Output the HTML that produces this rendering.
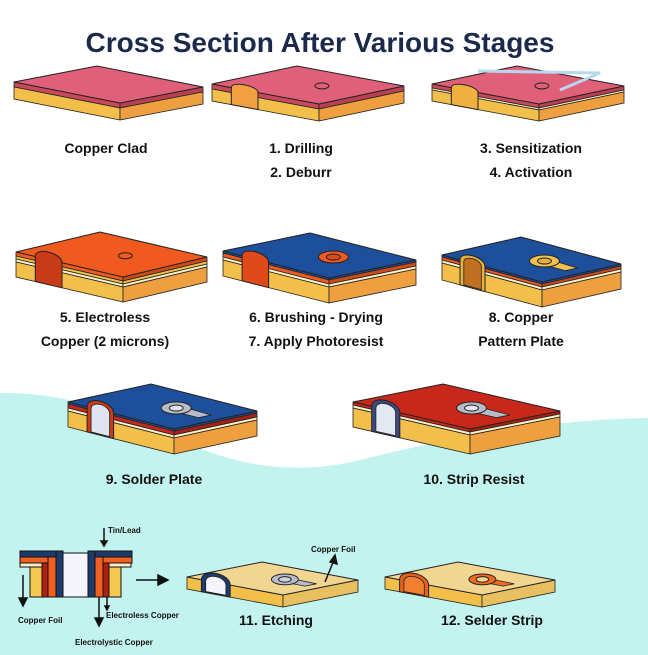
<!DOCTYPE html>
<html><head><meta charset="utf-8"><style>
html,body{margin:0;padding:0;background:#fff}
svg{display:block}
text{font-family:"Liberation Sans",sans-serif;font-weight:bold}
</style></head><body>
<svg id="s" width="648" height="655" viewBox="0 0 648 655" xmlns="http://www.w3.org/2000/svg">
<path d="M0 393 C60 392 120 410 180 440 C240 468 300 475 360 460 C440 440 540 420 648 418 L648 655 L0 655 Z" fill="#c3f3ee"/>
<text x="320" y="52" text-anchor="middle" font-size="28" fill="#1b2a4a">Cross Section After Various Stages</text>
<g font-size="14" fill="#111" text-anchor="middle">
<text x="106" y="153">Copper Clad</text>
<text x="301" y="153">1. Drilling</text>
<text x="301" y="177">2. Deburr</text>
<text x="531" y="153">3. Sensitization</text>
<text x="531" y="177">4. Activation</text>
<text x="105" y="322">5. Electroless</text>
<text x="105" y="346">Copper (2 microns)</text>
<text x="316" y="322">6. Brushing - Drying</text>
<text x="316" y="346">7. Apply Photoresist</text>
<text x="521" y="322">8. Copper</text>
<text x="521" y="346">Pattern Plate</text>
<text x="154" y="484">9. Solder Plate</text>
<text x="474" y="484">10. Strip Resist</text>
<text x="276" y="625">11. Etching</text>
<text x="492" y="625">12. Selder Strip</text>
</g>
<g id="g"></g>
<g stroke="#111" stroke-width="1">
<rect x="20" y="551" width="42" height="6" fill="#1e3a6a"/>
<rect x="20" y="557" width="42" height="6" fill="#f06020"/>
<rect x="20" y="563" width="22" height="4" fill="#fbeed0"/>
<rect x="30" y="567" width="12" height="30" fill="#f5c850"/>
<rect x="42" y="563" width="6" height="34" fill="#b02010"/>
<rect x="48" y="557" width="8" height="40" fill="#f06020"/>
<rect x="56" y="551" width="7" height="46" fill="#1e3a6a"/>
<rect x="63" y="553" width="25" height="44" fill="#f4f4fa"/>
<rect x="88" y="551" width="7" height="46" fill="#1e3a6a"/>
<rect x="95" y="557" width="8" height="40" fill="#f06020"/>
<rect x="103" y="563" width="6" height="34" fill="#b02010"/>
<rect x="109" y="563" width="22" height="4" fill="#fbeed0"/>
<rect x="109" y="567" width="12" height="30" fill="#f5c850"/>
<rect x="95" y="551" width="37" height="6" fill="#1e3a6a"/>
<rect x="103" y="557" width="29" height="6" fill="#f06020"/>
</g>
<g stroke="#111" stroke-width="1.5" fill="#111">
<line x1="104" y1="528" x2="104" y2="543"/><path d="M101 541 L104 546 L107 541Z"/>
<line x1="23" y1="575" x2="23" y2="600"/><path d="M19 598 L23 606 L27 598Z"/>
<line x1="99" y1="597" x2="99" y2="620"/><path d="M95 618 L99 626 L103 618Z"/>
<line x1="107" y1="597" x2="107" y2="608"/><path d="M105 606 L107 610 L109 606Z"/>
<line x1="136" y1="580" x2="162" y2="580"/><path d="M158 575 L168 580 L158 585Z"/>
<line x1="325" y1="582" x2="334" y2="560"/><path d="M330 562 L335 555 L337 564Z"/>
</g>
<g font-size="8" fill="#111">
<text x="108" y="533">Tin/Lead</text>
<text x="18" y="623">Copper Foil</text>
<text x="106" y="618">Electroless Copper</text>
<text x="75" y="645">Electrolystic Copper</text>
<text x="311" y="552">Copper Foil</text>
</g>
</svg>
<script>
var NS="http://www.w3.org/2000/svg",G=document.getElementById("g");
function el(t,a){var e=document.createElementNS(NS,t);for(var k in a)e.setAttribute(k,a[k]);G.appendChild(e);return e;}
function P(pts){return pts.map(function(p){return p[0].toFixed(1)+","+p[1].toFixed(1)}).join(" ");}
function S(p){return p[0].toFixed(1)+","+p[1].toFixed(1);}
function slab(A,u,v,top,layers,o){
 o=o||{};
 function pt(s,t,dy){return [A[0]+s*u[0]+t*v[0],A[1]+s*u[1]+t*v[1]+(dy||0)];}
 var y0=0;
 layers.forEach(function(L){
  var t=L[1];
  el("polygon",{points:P([pt(0,0,y0),pt(1,0,y0),pt(1,0,y0+t),pt(0,0,y0+t)]),fill:L[0],stroke:"#222","stroke-width":0.8});
  el("polygon",{points:P([pt(1,0,y0),pt(1,1,y0),pt(1,1,y0+t),pt(1,0,y0+t)]),fill:L[2]||L[0],stroke:"#222","stroke-width":0.8});
  y0+=t;
 });
 var T=y0;
 el("polygon",{points:P([pt(0,0),pt(1,0),pt(1,1),pt(0,1)]),fill:top,stroke:"#222","stroke-width":1});
 if(o.notch){
  var s1=o.ns||0.18,s2=o.ne||0.43,h=o.h||10;
  var P1=pt(s1,0),P2=pt(s2,0);
  var c1=[P1[0],P1[1]-h],c2=[P2[0],P2[1]-h];
  el("path",{d:"M"+S(P1)+" C"+S(c1)+" "+S(c2)+" "+S(P2)+" L"+S(pt(s2,0,T))+" L"+S(pt(s1,0,T))+"Z",fill:o.notch,stroke:"#222","stroke-width":1});
  if(o.inner){var w=(s2-s1)*0.15,Q1=pt(s1+w,0,1),Q2=pt(s2-w,0,1);
   el("path",{d:"M"+S(Q1)+" C"+S([Q1[0],Q1[1]-h*0.75])+" "+S([Q2[0],Q2[1]-h*0.75])+" "+S(Q2)+" L"+S(pt(s2-w,0,T-1))+" L"+S(pt(s1+w,0,T-1))+"Z",fill:o.inner,stroke:"#222","stroke-width":0.8});}
 }
 if(o.hole){var hh=pt(o.hs||0.59,o.ht||0.55),k=o.k||1;
  if(o.tab)el("polygon",{points:P([pt(0.6,0.45),pt(0.88,0.45),pt(0.88,0.6),pt(0.6,0.62)]),fill:o.pad,stroke:"#222","stroke-width":0.8});
  if(o.pad)el("ellipse",{cx:hh[0],cy:hh[1],rx:15*k,ry:6*k,fill:o.pad,stroke:"#222"});
  el("ellipse",{cx:hh[0],cy:hh[1],rx:7*k,ry:3*k,fill:o.hole,stroke:"#222"});
 }
}
var Y="#f2c04a",Y2="#eea040",CR="#fbf0c8",OR="#f05a1e",BL="#1e4f9a",RD="#c8281a",PK="#e0607a",PKd="#c84a5a";
slab([14,82],[106,21],[83,-16],PK,[[PKd,5,"#b84050"],[Y,12,Y2]]);
slab([212,84],[107,20],[85,-18],PK,[[PKd,5,"#b84050"],[Y,12,Y2]],{notch:"#f0a040",hole:PK,h:7});
slab([432,84],[107,20],[85,-18],PK,[[PKd,4,"#b84050"],[CR,2],[Y,11,Y2]],{notch:"#f0b040",hole:PK,h:7});
el("polyline",{points:"478,71 600,73 560,90",fill:"none",stroke:"#b8d8f0","stroke-width":3});
slab([16,252],[107,25],[84,-20],OR,[[OR,4,"#d04a18"],[Y,3],[CR,3],[Y,15,Y2]],{notch:"#c83a18",hole:OR});
slab([223,251],[106,27],[87,-18],BL,[[BL,2],[OR,4,"#d04a18"],[CR,3],[Y,16,Y2]],{notch:"#e04a1a",hole:"#e04a1a",pad:OR});
slab([442,255],[100,27],[79,-18],BL,[[BL,2],[OR,3,"#d04a18"],[CR,3],[Y,17,Y2]],{notch:"#e8b040",inner:"#c07020",hole:"#e8b040",pad:"#f0c050",tab:1});
slab([68,402],[106,27],[83,-18],BL,[[BL,2],[RD,4,"#a82010"],[CR,3],[Y,16,Y2]],{notch:"#c83a18",inner:"#dfe4f0",hole:"#dfe4f0",pad:"#b8bcc8",tab:1,h:12});
slab([353,402],[117,27],[90,-18],RD,[[RD,3,"#a82010"],[CR,3],[Y,19,Y2]],{notch:"#3a4a80",inner:"#e4e8f2",hole:"#e4e8f2",pad:"#b8bcc8",tab:1,ns:0.16,ne:0.4,h:12});
slab([187,577],[96,18],[75,-15],"#f0d690",[[Y,12,"#e8c060"]],{notch:"#1e3a6a",inner:"#f4f4fa",hole:"#d0d4e0",pad:"#b8bcc8",tab:1,ns:0.15,ne:0.45,k:0.9,h:12});
slab([385,577],[97,18],[73,-15],"#f0d690",[[Y,12,"#e8c060"]],{notch:"#e8601a",inner:"#f08030",hole:"#f0d690",pad:"#f06a20",tab:1,ns:0.15,ne:0.45,k:0.9,h:12});
</script>
</body></html>
